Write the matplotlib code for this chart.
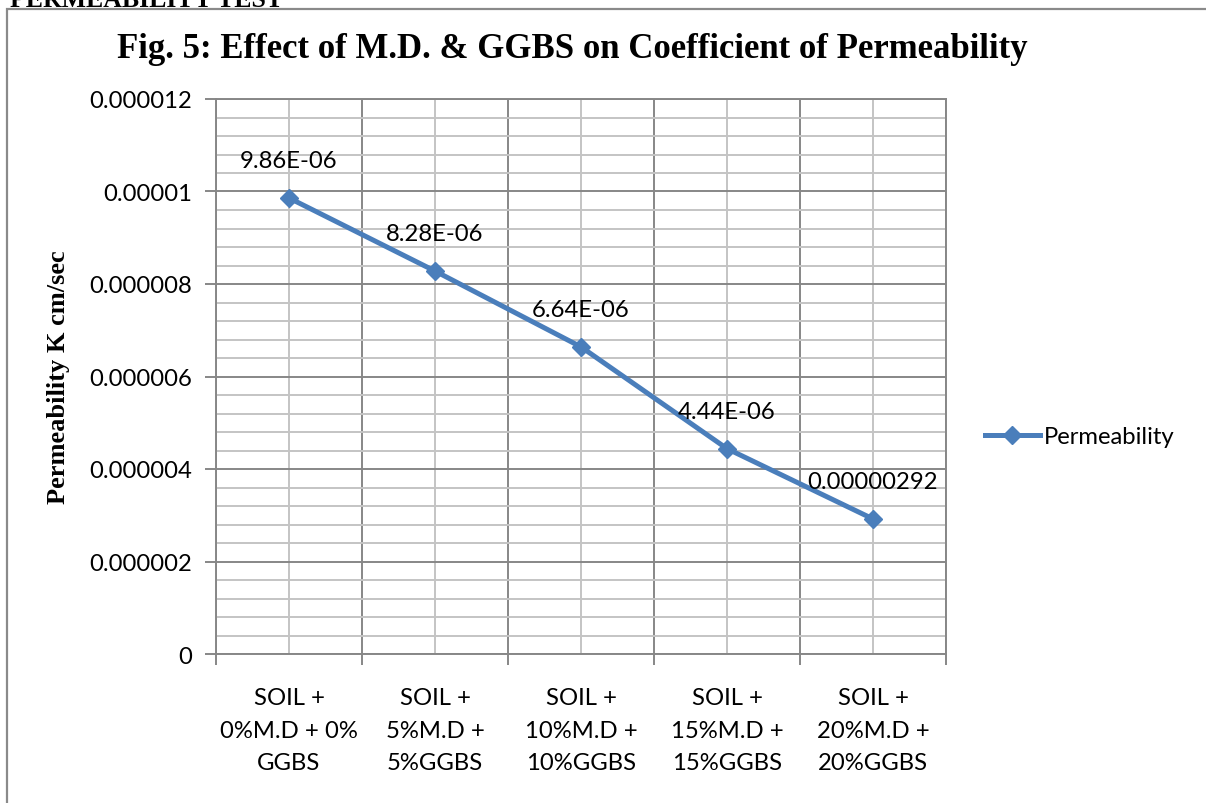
import matplotlib
matplotlib.use("Agg")
import matplotlib.pyplot as plt
from matplotlib.patches import Rectangle

categories = [
    "SOIL +\n0%M.D + 0%\nGGBS",
    "SOIL +\n5%M.D +\n5%GGBS",
    "SOIL +\n10%M.D +\n10%GGBS",
    "SOIL +\n15%M.D +\n15%GGBS",
    "SOIL +\n20%M.D +\n20%GGBS",
]
permeability = [9.86e-6, 8.28e-6, 6.64e-6, 4.44e-6, 2.92e-6]
point_labels = ["9.86E-06", "8.28E-06", "6.64E-06", "4.44E-06", "0.00000292"]
y_ticks = [0, 2e-6, 4e-6, 6e-6, 8e-6, 10e-6, 12e-6]
y_tick_labels = ["0", "0.000002", "0.000004", "0.000006", "0.000008", "0.00001", "0.000012"]

SANS = "Lato"
SERIF = "Liberation Serif"
LINE = "#4A7EBB"
MAJ = "#878787"
MIN = "#c4c4c4"
FS = 17.2

W, H = 1206, 804
fig = plt.figure(figsize=(W / 100, H / 100), dpi=100)
ax = fig.add_axes([216 / W, 1 - 655 / H, 730 / W, 555 / H])

x = list(range(len(categories)))
ax.plot(x, permeability, color=LINE, lw=3.6, marker="D", ms=9.5,
        mfc=LINE, mec=LINE, label="Permeability", zorder=5, clip_on=False)

for xi, yi, lab in zip(x, permeability, point_labels):
    ax.annotate(lab, (xi, yi), xytext=(0, 27), textcoords="offset points",
                ha="center", va="center", fontsize=FS, family=SANS, zorder=6)

ax.set_xlim(-0.5, len(categories) - 0.5)
ax.set_ylim(0, 12e-6)

# x: boundaries are major (dark grid + ticks), centres carry the labels
ax.set_xticks([i - 0.5 for i in range(len(categories) + 1)])
ax.set_xticklabels([])
ax.set_xticks(x, categories, minor=True)
ax.tick_params(axis="x", which="major", length=8, width=1.4, color=MAJ, direction="out")
ax.tick_params(axis="x", which="minor", length=0, pad=24, labelsize=FS)

ax.set_yticks(y_ticks, y_tick_labels)
ax.set_yticks([v * 0.4e-6 for v in range(31)], minor=True)
ax.tick_params(axis="y", which="major", length=8, width=1.4, color=MAJ, pad=9, labelsize=FS)
ax.tick_params(axis="y", which="minor", length=0)

for lab in ax.get_xticklabels(minor=True) + ax.get_yticklabels():
    lab.set_family(SANS)
for lab in ax.get_xticklabels(minor=True):
    lab.set_linespacing(1.68)

ax.grid(True, which="minor", color=MIN, lw=1.4)
ax.grid(True, which="major", color=MAJ, lw=1.4)
ax.set_axisbelow(True)
for s in ax.spines.values():
    s.set_color(MAJ)
    s.set_linewidth(1.4)

fig.text(572 / W, 1 - 50 / H, "Fig. 5: Effect of M.D. & GGBS on Coefficient of Permeability",
         ha="center", va="center", fontsize=25, fontweight="bold", family=SERIF)
fig.text(58 / W, 1 - 377 / H, "Permeability K cm/sec", rotation=90,
         ha="center", va="center", fontsize=19, fontweight="bold", family=SERIF)
fig.text(10 / W, 1 - 7 / H, "PERMEABILITY TEST", ha="left", va="baseline",
         fontsize=18.5, fontweight="bold", family=SERIF)

fig.patches.append(Rectangle((7 / W, -0.1), 1.2, 1.1 - 10 / H, transform=fig.transFigure,
                             fill=False, ec="#8a8a8a", lw=1.6))

fig.legend(loc="center left", bbox_to_anchor=(985 / W, 1 - 438 / H), frameon=False,
           prop={"family": SANS, "size": FS}, handlelength=2.3, handletextpad=0.15,
           borderpad=0, borderaxespad=0)

fig.savefig("out.png", dpi=100)
